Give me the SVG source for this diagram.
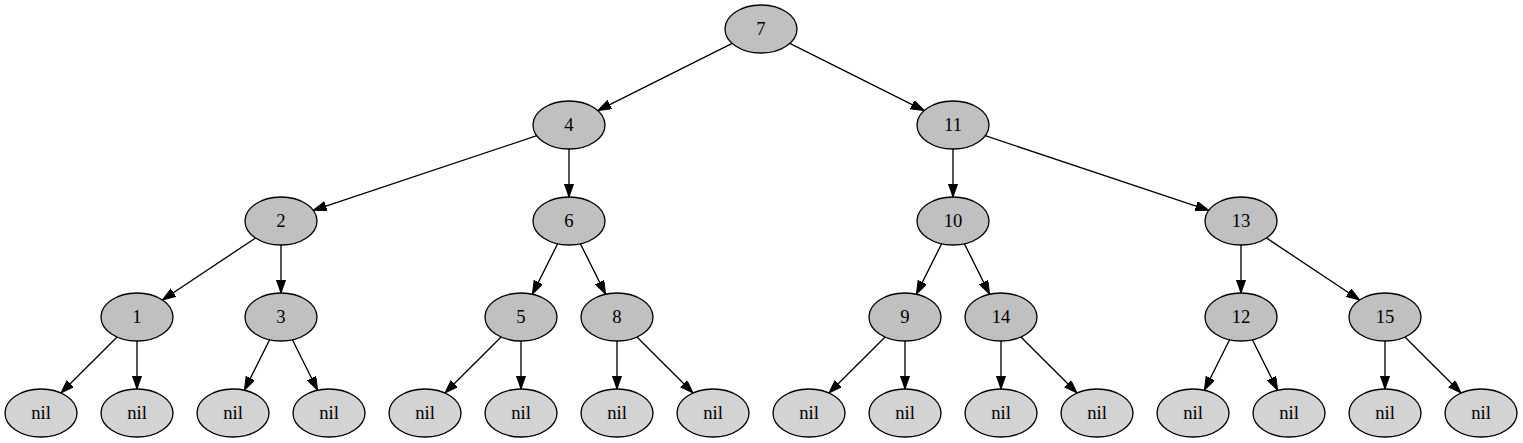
<svg xmlns="http://www.w3.org/2000/svg" width="1523" height="443" viewBox="0 0 1523 443">
<style>
.n ellipse{fill:#c0c0c0;stroke:#000;stroke-width:1.33}
.l ellipse{fill:#d3d3d3;stroke:#000;stroke-width:1.33}
text{font-family:"Liberation Serif","Times New Roman",serif;font-size:18.67px;text-anchor:middle;fill:#000}
#edges line{stroke:#000;stroke-width:1.33;marker-end:url(#ah)}
</style>
<defs>
<marker id="ah" markerUnits="userSpaceOnUse" markerWidth="14" markerHeight="10" refX="13.33" refY="4.67" orient="auto" viewBox="0 0 14 10">
<path d="M0,0 L13.33,4.67 L0,9.33 z" fill="#000" stroke="#000" stroke-width="1"/>
</marker>
</defs>
<rect width="1523" height="443" fill="#fff"/>
<g id="edges">
<line x1="732.2" y1="43.4" x2="597.8" y2="110.6"/>
<line x1="789.8" y1="43.4" x2="924.2" y2="110.6"/>
<line x1="536.8" y1="135.73" x2="313.2" y2="210.27"/>
<line x1="569" y1="149" x2="569" y2="197"/>
<line x1="953" y1="149" x2="953" y2="197"/>
<line x1="985.2" y1="135.73" x2="1208.8" y2="210.27"/>
<line x1="255.54" y1="237.97" x2="162.46" y2="300.03"/>
<line x1="281" y1="245" x2="281" y2="293"/>
<line x1="557.62" y1="243.77" x2="532.38" y2="294.23"/>
<line x1="580.38" y1="243.77" x2="605.62" y2="294.23"/>
<line x1="941.62" y1="243.77" x2="916.38" y2="294.23"/>
<line x1="964.38" y1="243.77" x2="989.62" y2="294.23"/>
<line x1="1241" y1="245" x2="1241" y2="293"/>
<line x1="1266.46" y1="237.97" x2="1359.54" y2="300.03"/>
<line x1="117.03" y1="336.97" x2="60.97" y2="393.03"/>
<line x1="137" y1="341" x2="137" y2="389"/>
<line x1="269.62" y1="339.77" x2="244.38" y2="390.23"/>
<line x1="292.38" y1="339.77" x2="317.62" y2="390.23"/>
<line x1="501.03" y1="336.97" x2="444.97" y2="393.03"/>
<line x1="521" y1="341" x2="521" y2="389"/>
<line x1="617" y1="341" x2="617" y2="389"/>
<line x1="636.97" y1="336.97" x2="693.03" y2="393.03"/>
<line x1="885.03" y1="336.97" x2="828.97" y2="393.03"/>
<line x1="905" y1="341" x2="905" y2="389"/>
<line x1="1001" y1="341" x2="1001" y2="389"/>
<line x1="1020.97" y1="336.97" x2="1077.03" y2="393.03"/>
<line x1="1229.62" y1="339.77" x2="1204.38" y2="390.23"/>
<line x1="1252.38" y1="339.77" x2="1277.62" y2="390.23"/>
<line x1="1385" y1="341" x2="1385" y2="389"/>
<line x1="1404.97" y1="336.97" x2="1461.03" y2="393.03"/>
</g>
<g id="n7" class="n"><ellipse cx="761" cy="29" rx="36" ry="24"/><text x="761" y="35.3">7</text></g>
<g id="n4" class="n"><ellipse cx="569" cy="125" rx="36" ry="24"/><text x="569" y="131.3">4</text></g>
<g id="n11" class="n"><ellipse cx="953" cy="125" rx="36" ry="24"/><text x="953" y="131.3">11</text></g>
<g id="n2" class="n"><ellipse cx="281" cy="221" rx="36" ry="24"/><text x="281" y="227.3">2</text></g>
<g id="n6" class="n"><ellipse cx="569" cy="221" rx="36" ry="24"/><text x="569" y="227.3">6</text></g>
<g id="n10" class="n"><ellipse cx="953" cy="221" rx="36" ry="24"/><text x="953" y="227.3">10</text></g>
<g id="n13" class="n"><ellipse cx="1241" cy="221" rx="36" ry="24"/><text x="1241" y="227.3">13</text></g>
<g id="n1" class="n"><ellipse cx="137" cy="317" rx="36" ry="24"/><text x="137" y="323.3">1</text></g>
<g id="n3" class="n"><ellipse cx="281" cy="317" rx="36" ry="24"/><text x="281" y="323.3">3</text></g>
<g id="n5" class="n"><ellipse cx="521" cy="317" rx="36" ry="24"/><text x="521" y="323.3">5</text></g>
<g id="n8" class="n"><ellipse cx="617" cy="317" rx="36" ry="24"/><text x="617" y="323.3">8</text></g>
<g id="n9" class="n"><ellipse cx="905" cy="317" rx="36" ry="24"/><text x="905" y="323.3">9</text></g>
<g id="n14" class="n"><ellipse cx="1001" cy="317" rx="36" ry="24"/><text x="1001" y="323.3">14</text></g>
<g id="n12" class="n"><ellipse cx="1241" cy="317" rx="36" ry="24"/><text x="1241" y="323.3">12</text></g>
<g id="n15" class="n"><ellipse cx="1385" cy="317" rx="36" ry="24"/><text x="1385" y="323.3">15</text></g>
<g id="nil1" class="l"><ellipse cx="41" cy="413" rx="36" ry="24"/><text x="41" y="419.3">nil</text></g>
<g id="nil2" class="l"><ellipse cx="137" cy="413" rx="36" ry="24"/><text x="137" y="419.3">nil</text></g>
<g id="nil3" class="l"><ellipse cx="233" cy="413" rx="36" ry="24"/><text x="233" y="419.3">nil</text></g>
<g id="nil4" class="l"><ellipse cx="329" cy="413" rx="36" ry="24"/><text x="329" y="419.3">nil</text></g>
<g id="nil5" class="l"><ellipse cx="425" cy="413" rx="36" ry="24"/><text x="425" y="419.3">nil</text></g>
<g id="nil6" class="l"><ellipse cx="521" cy="413" rx="36" ry="24"/><text x="521" y="419.3">nil</text></g>
<g id="nil7" class="l"><ellipse cx="617" cy="413" rx="36" ry="24"/><text x="617" y="419.3">nil</text></g>
<g id="nil8" class="l"><ellipse cx="713" cy="413" rx="36" ry="24"/><text x="713" y="419.3">nil</text></g>
<g id="nil9" class="l"><ellipse cx="809" cy="413" rx="36" ry="24"/><text x="809" y="419.3">nil</text></g>
<g id="nil10" class="l"><ellipse cx="905" cy="413" rx="36" ry="24"/><text x="905" y="419.3">nil</text></g>
<g id="nil11" class="l"><ellipse cx="1001" cy="413" rx="36" ry="24"/><text x="1001" y="419.3">nil</text></g>
<g id="nil12" class="l"><ellipse cx="1097" cy="413" rx="36" ry="24"/><text x="1097" y="419.3">nil</text></g>
<g id="nil13" class="l"><ellipse cx="1193" cy="413" rx="36" ry="24"/><text x="1193" y="419.3">nil</text></g>
<g id="nil14" class="l"><ellipse cx="1289" cy="413" rx="36" ry="24"/><text x="1289" y="419.3">nil</text></g>
<g id="nil15" class="l"><ellipse cx="1385" cy="413" rx="36" ry="24"/><text x="1385" y="419.3">nil</text></g>
<g id="nil16" class="l"><ellipse cx="1481" cy="413" rx="36" ry="24"/><text x="1481" y="419.3">nil</text></g>
</svg>
